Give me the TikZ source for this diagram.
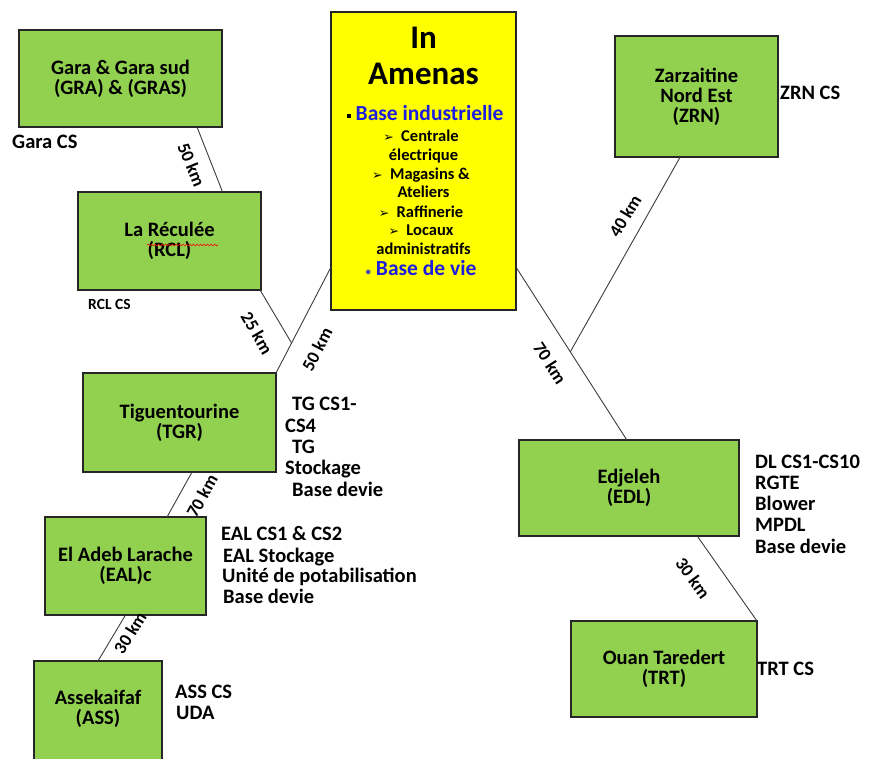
\documentclass[tikz,border=0pt]{standalone}
\usepackage{fontspec}
\setmainfont{Carlito}
\newfontfamily\dejavu{DejaVu Sans}
\usetikzlibrary{calc,decorations.pathmorphing}
\definecolor{boxgreen}{RGB}{146,208,80}
\definecolor{boxyellow}{RGB}{255,255,0}
\definecolor{itemblue}{RGB}{30,30,225}
\definecolor{linegray}{RGB}{60,60,60}
\begin{document}
\begin{tikzpicture}[x=1pt,y=1pt,
  site/.style={draw=black!85, line width=1.3pt, fill=boxgreen, inner sep=0pt, outer sep=0pt,
    align=center, font=\fontsize{20.5}{20}\selectfont\bfseries},
  link/.style={draw=linegray, line width=0.9pt},
  dist/.style={inner sep=0pt, font=\fontsize{18}{18}\selectfont\bfseries},
  info/.style={anchor=mid west, inner sep=0pt, font=\fontsize{20.5}{21}\selectfont\bfseries},
  iatext/.style={anchor=mid, inner sep=0pt, font=\fontsize{16.5}{16}\selectfont\bfseries},
  iahead/.style={anchor=mid, inner sep=0pt, font=\fontsize{33}{33}\selectfont\bfseries},
  iablue/.style={anchor=mid, inner sep=0pt, text=itemblue, font=\fontsize{21.5}{20}\selectfont\bfseries}
]
\useasboundingbox (0,0) rectangle (869,-758);

% ---------- boxes ----------
\node[site, minimum width=203pt, minimum height=97pt] (gra) at (120.5,-78.5) {Gara \& Gara sud\\(GRA) \& (GRAS)};
\node[site, minimum width=183pt, minimum height=98pt] (rcl) at (169.5,-241) {La Réculée\\(RCL)};
\node[draw=black!85, line width=1.3pt, fill=boxyellow, minimum width=185pt, minimum height=298pt, inner sep=0pt, outer sep=0pt] (ia) at (423.5,-161) {};
\node[site, minimum width=163pt, minimum height=121pt] (zrn) at (696.5,-96.5) {Zarzaitine\\Nord Est\\(ZRN)};
\node[site, minimum width=193pt, minimum height=99pt] (tgr) at (179.5,-422.5) {Tiguentourine\\(TGR)};
\node[site, minimum width=161pt, minimum height=98pt] (eal) at (125.5,-566) {El Adeb Larache\\(EAL)c};
\node[site, minimum width=128pt, minimum height=110pt] (ass) at (98,-716) {};
\node[inner sep=0pt, align=center, font=\fontsize{20.5}{20}\selectfont\bfseries] (asst) at (98,-709) {Assekaifaf\\(ASS)};
\node[site, minimum width=220pt, minimum height=96pt] (edl) at (629,-488) {Edjeleh\\(EDL)};
\node[site, minimum width=186pt, minimum height=96pt] (trt) at (664,-669) {Ouan Taredert\\(TRT)};

% spell-check squiggle under Réculée
\draw[red, line width=0.6pt, decorate, decoration={snake, amplitude=0.9pt, segment length=3.5pt}]
  (147,-245) -- (218,-245);

% ---------- In Amenas text ----------
\node[iahead] (ia1) at (423.5,-46) {In};
\node[iahead] (ia2) at (423.5,-82) {Amenas};
\node[iablue] (ia3) at (425,-118) {\textcolor{black}{\rule[0.1em]{0.2em}{0.2em}}\ Base industrielle};
\node[iatext] (ia4) at (421,-139) {{\dejavu\fontsize{12.5}{12}\selectfont ➢}\ \ Centrale};
\node[iatext] (ia5) at (423.5,-158) {électrique};
\node[iatext] (ia6) at (421,-177) {{\dejavu\fontsize{12.5}{12}\selectfont ➢}\ \ Magasins \&};
\node[iatext] (ia7) at (423.5,-195) {Ateliers};
\node[iatext] (ia8) at (421,-215) {{\dejavu\fontsize{12.5}{12}\selectfont ➢}\ \ Raffinerie};
\node[iatext] (ia9) at (421,-233) {{\dejavu\fontsize{12.5}{12}\selectfont ➢}\ \ Locaux};
\node[iatext] (ia10) at (423.5,-252) {administratifs};
\node[iablue] (ia11) at (421,-273) {{\color{itemblue!50!gray}\fontsize{11}{11}\selectfont •}\ Base de vie};

% ---------- connection points ----------
\coordinate (graS) at ($(gra.south west)!0.877!(gra.south east)$);
\coordinate (rclN) at ($(rcl.north west)!0.79!(rcl.north east)$);
\coordinate (rclS) at ($(rcl.south west)!0.995!(rcl.south east)$);
\coordinate (iaW) at ($(ia.north west)!0.856!(ia.south west)$);
\coordinate (iaE) at ($(ia.north east)!0.856!(ia.south east)$);
\coordinate (j1) at ($(iaW)!0.717!(tgr.north east)$);
\coordinate (edlN) at ($(edl.north west)!0.49!(edl.north east)$);
\coordinate (j2) at ($(iaE)!0.49!(edlN)$);
\coordinate (zrnS) at ($(zrn.south west)!0.40!(zrn.south east)$);
\coordinate (tgrS) at ($(tgr.south west)!0.565!(tgr.south east)$);
\coordinate (ealN) at ($(eal.north west)!0.758!(eal.north east)$);
\coordinate (edlS) at ($(edl.south west)!0.81!(edl.south east)$);

% ---------- connectors ----------
\draw[link] (graS) -- (rclN);
\draw[link] (rclS) -- (j1);
\draw[link] (iaW) -- (tgr.north east);
\draw[link] (iaE) -- (edlN);
\draw[link] (zrnS) -- (j2);
\draw[link] (tgrS) -- (ealN);
\draw[link] (eal.south) -- (ass.north);
\draw[link] (edlS) -- (trt.north east);

% ---------- distance labels ----------
\node[dist, rotate=-68] (d1) at (191.5,-165) {50 km};
\node[dist, rotate=-60] (d2) at (257,-333) {25 km};
\node[dist, rotate=62.6] (d3) at (317,-349) {50 km};
\node[dist, rotate=-57] (d4) at (550,-363) {70 km};
\node[dist, rotate=59] (d5) at (625,-216) {40 km};
\node[dist, rotate=61] (d6) at (202,-496) {70 km};
\node[dist, rotate=58] (d7) at (130,-633) {30 km};
\node[dist, rotate=-54] (d8) at (693,-578) {30 km};

% ---------- side texts ----------
\node[info] (garacs) at (12,-146) {Gara CS};
\node[info, font=\fontsize{15.5}{15}\selectfont\bfseries] (rclcs) at (88,-307) {RCL CS};
\node[info] (zrncs) at (780,-97) {ZRN CS};

\node[info] (tg1) at (292,-408) {TG CS1-};
\node[info] (tg2) at (285,-430) {CS4};
\node[info] (tg3) at (292,-451) {TG};
\node[info] (tg4) at (285,-472) {Stockage};
\node[info] (tg5) at (292,-494) {Base devie};

\node[info] (eal1) at (221,-538) {EAL CS1 \& CS2};
\node[info] (eal2) at (223,-560) {EAL Stockage};
\node[info] (eal3) at (222,-580) {Unité de potabilisation};
\node[info] (eal4) at (223,-601) {Base devie};

\node[info] (ass1) at (175,-696) {ASS CS};
\node[info] (ass2) at (176,-717) {UDA};

\node[info] (edl1) at (755,-466) {DL CS1-CS10};
\node[info] (edl2) at (755,-487) {RGTE};
\node[info] (edl3) at (755,-508) {Blower};
\node[info] (edl4) at (755,-529) {MPDL};
\node[info] (edl5) at (755,-551) {Base devie};

\node[info] (trtcs) at (757,-673) {TRT CS};
\end{tikzpicture}
\end{document}
